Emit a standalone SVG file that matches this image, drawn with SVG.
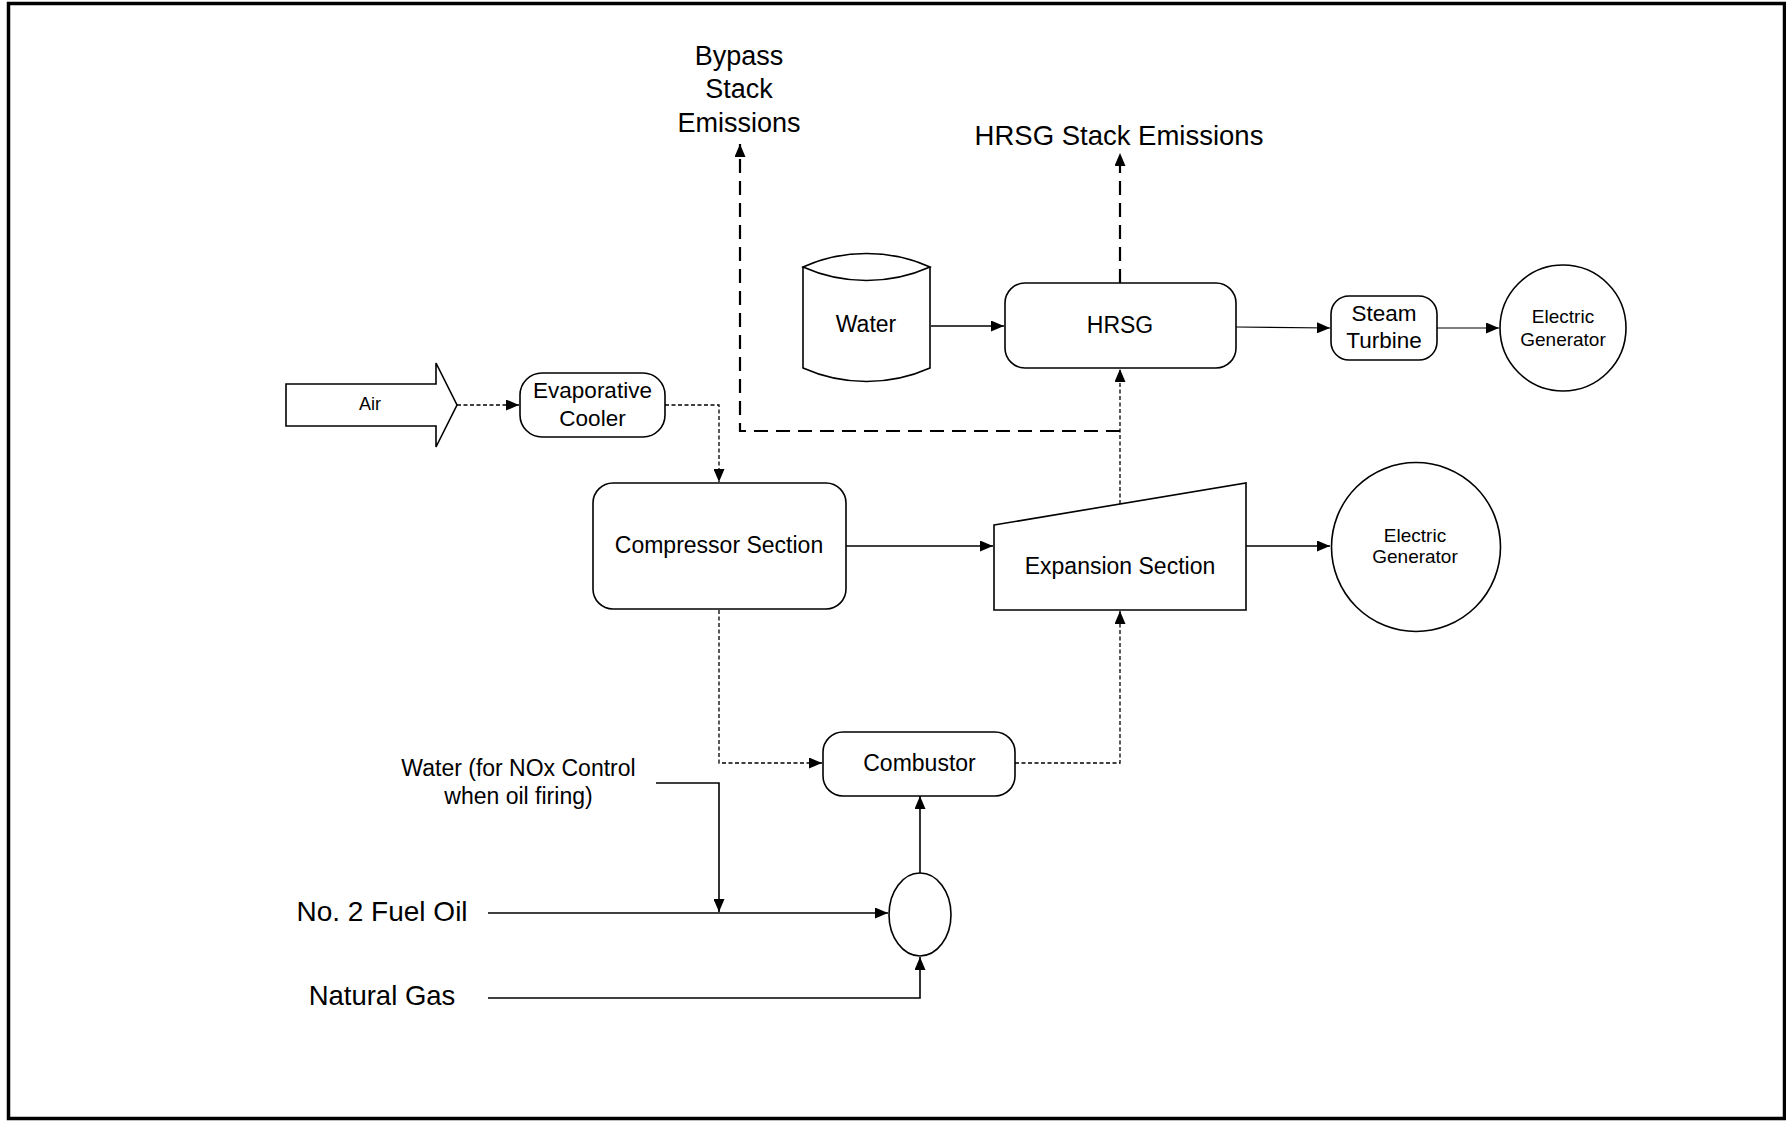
<svg xmlns="http://www.w3.org/2000/svg" width="1786" height="1121" viewBox="0 0 1786 1121">
<defs>
<style>
.t{font-family:"Liberation Sans",Arial,sans-serif;fill:#000;text-anchor:middle}
.n{fill:#fff;stroke:#000;stroke-width:1.6}
.s{fill:none;stroke:#000;stroke-width:1.6}
.thin{fill:none;stroke:#000;stroke-width:1.1}
.d{fill:none;stroke:#000;stroke-width:1.3;stroke-dasharray:4 2.5}
.ld{fill:none;stroke:#000;stroke-width:2.2;stroke-dasharray:14 8}
</style>
<marker id="ah" markerUnits="userSpaceOnUse" markerWidth="13" markerHeight="11" refX="13" refY="5.5" orient="auto">
<path d="M0,0 L13,5.5 L0,11 z" fill="#000"/>
</marker>
</defs>
<rect x="0" y="0" width="1786" height="1121" fill="#fff"/>
<rect x="8.5" y="3.5" width="1776" height="1115" fill="none" stroke="#000" stroke-width="3.5"/>

<g id="connectors">
<line class="d" x1="457" y1="405" x2="519" y2="405" marker-end="url(#ah)"/>
<polyline class="d" points="665,405 719,405 719,482" marker-end="url(#ah)"/>
<line class="s" x1="846" y1="546" x2="993" y2="546" marker-end="url(#ah)"/>
<line class="s" x1="1246" y1="546" x2="1330" y2="546" marker-end="url(#ah)"/>
<line class="s" x1="931" y1="326" x2="1004" y2="326" marker-end="url(#ah)"/>
<line class="thin" x1="1236" y1="327" x2="1330" y2="328" marker-end="url(#ah)"/>
<line class="thin" x1="1437" y1="328" x2="1499" y2="328" marker-end="url(#ah)"/>
<line class="ld" x1="1120" y1="283" x2="1120" y2="153" marker-end="url(#ah)"/>
<polyline class="ld" points="1120,431 740,431 740,144" marker-end="url(#ah)"/>
<line class="d" x1="1120" y1="504" x2="1120" y2="369" marker-end="url(#ah)"/>
<polyline class="d" points="719,610 719,763 822,763" marker-end="url(#ah)"/>
<polyline class="d" points="1015,763 1120,763 1120,611" marker-end="url(#ah)"/>
<line class="s" x1="920" y1="873" x2="920" y2="796" marker-end="url(#ah)"/>
<line class="s" x1="488" y1="913" x2="888" y2="913" marker-end="url(#ah)"/>
<polyline class="s" points="656,783 719,783 719,912" marker-end="url(#ah)"/>
<polyline class="s" points="488,998 920,998 920,957" marker-end="url(#ah)"/>
</g>

<g id="air">
<polygon class="n" points="286,384 436,384 436,363 457,405 436,447 436,426 286,426"/>
<text class="t" x="370" y="410" font-size="18">Air</text>
</g>

<g id="evaporative-cooler">
<rect class="n" x="520" y="373" width="145" height="64" rx="22"/>
<text class="t" x="592.5" y="398" font-size="22.5">Evaporative</text>
<text class="t" x="592.5" y="426" font-size="22.5">Cooler</text>
</g>

<g id="compressor">
<rect class="n" x="593" y="483" width="253" height="126" rx="20"/>
<text class="t" x="719" y="553" font-size="23">Compressor Section</text>
</g>

<g id="expansion">
<polygon class="n" points="994,525 1246,483 1246,610 994,610"/>
<text class="t" x="1120" y="574" font-size="23">Expansion Section</text>
</g>

<g id="generator-2">
<circle class="n" cx="1416" cy="547" r="84.5"/>
<text class="t" x="1415" y="542" font-size="19">Electric</text>
<text class="t" x="1415" y="563" font-size="19">Generator</text>
</g>

<g id="water-tank">
<path class="n" d="M803,267 L803,368 A156,156 0 0 0 930,368 L930,267"/>
<path class="n" d="M803,267 A156,156 0 0 1 930,267 A156,156 0 0 1 803,267 Z"/>
<text class="t" x="866" y="332" font-size="23">Water</text>
</g>

<g id="hrsg">
<rect class="n" x="1005" y="283" width="231" height="85" rx="20"/>
<text class="t" x="1120" y="333" font-size="23">HRSG</text>
</g>

<g id="steam-turbine">
<rect class="n" x="1331" y="296" width="106" height="64" rx="18"/>
<text class="t" x="1384" y="321" font-size="22.5">Steam</text>
<text class="t" x="1384" y="348" font-size="22.5">Turbine</text>
</g>

<g id="generator-1">
<circle class="n" cx="1563" cy="328" r="63"/>
<text class="t" x="1563" y="323" font-size="19">Electric</text>
<text class="t" x="1563" y="346" font-size="19">Generator</text>
</g>

<g id="combustor">
<rect class="n" x="823" y="732" width="192" height="64" rx="20"/>
<text class="t" x="919.5" y="771" font-size="23">Combustor</text>
</g>

<g id="mixer">
<ellipse class="n" cx="920" cy="914.5" rx="31" ry="41.5"/>
</g>

<g id="labels">
<text class="t" x="739" y="65" font-size="27">Bypass</text>
<text class="t" x="739" y="98" font-size="27">Stack</text>
<text class="t" x="739" y="132" font-size="27">Emissions</text>
<text class="t" x="1119" y="145" font-size="27.5">HRSG Stack Emissions</text>
<text class="t" x="518.5" y="776" font-size="23">Water (for NOx Control</text>
<text class="t" x="518.5" y="804" font-size="23">when oil firing)</text>
<text class="t" x="382" y="921" font-size="28">No. 2 Fuel Oil</text>
<text class="t" x="382" y="1005" font-size="27.5">Natural Gas</text>
</g>
</svg>
